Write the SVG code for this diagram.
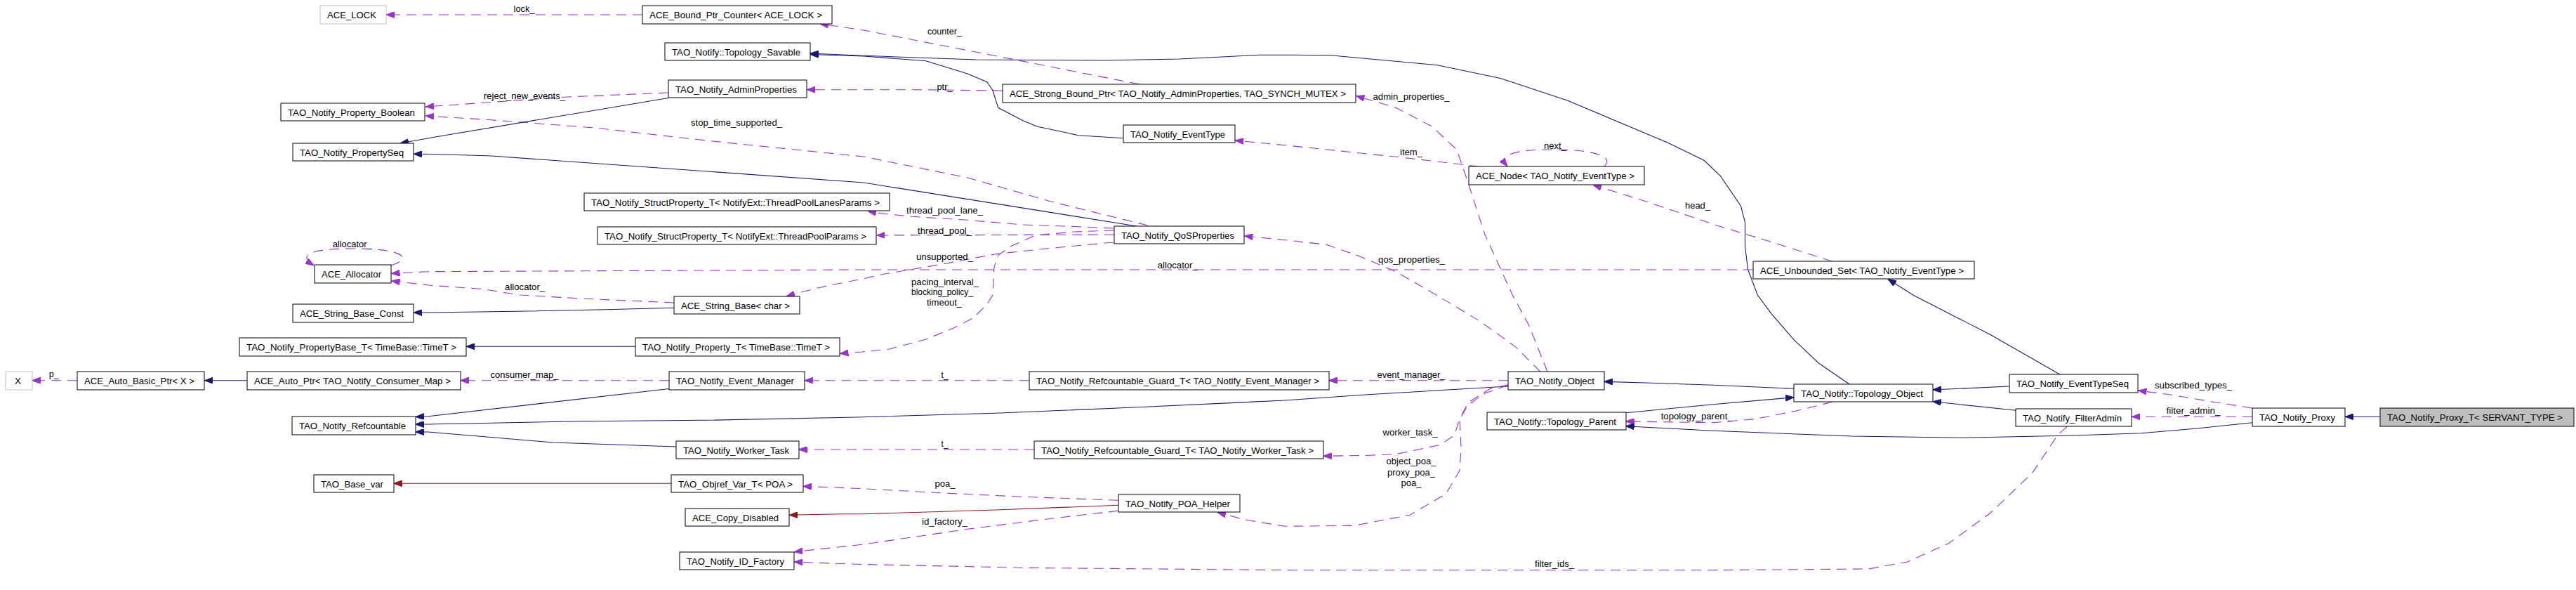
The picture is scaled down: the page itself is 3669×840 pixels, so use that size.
<svg xmlns="http://www.w3.org/2000/svg" width="3669" height="840" viewBox="0 0 3669 840">
<style>
.node rect{fill:#fff;stroke:#000;stroke-width:1}
.ext rect{stroke:#bfbfbf}
.cur rect{fill:#bfbfbf}
text{font-family:"Liberation Sans",Arial,sans-serif;font-size:13.5px;fill:#000}
.lbl{text-anchor:middle}
.inh{fill:none;stroke:#191970;stroke-width:1.1;marker-end:url(#ab)}
.use{fill:none;stroke:#9a32cd;stroke-width:1.1;stroke-dasharray:14,9;marker-end:url(#ap)}
.prv{fill:none;stroke:#8b1a1a;stroke-width:1.1;marker-end:url(#ar)}
</style>
<defs>
<marker id="ab" markerUnits="userSpaceOnUse" viewBox="0 0 12 9" markerWidth="12" markerHeight="9" refX="12" refY="4.5" orient="auto"><path d="M0,0 L12,4.5 L0,9 z" fill="#191970" stroke="#191970"/></marker>
<marker id="ap" markerUnits="userSpaceOnUse" viewBox="0 0 12 9" markerWidth="12" markerHeight="9" refX="12" refY="4.5" orient="auto"><path d="M0,0 L12,4.5 L0,9 z" fill="#9a32cd" stroke="#9a32cd"/></marker>
<marker id="ar" markerUnits="userSpaceOnUse" viewBox="0 0 12 9" markerWidth="12" markerHeight="9" refX="12" refY="4.5" orient="auto"><path d="M0,0 L12,4.5 L0,9 z" fill="#8b1a1a" stroke="#8b1a1a"/></marker>
</defs>
<rect x="0" y="0" width="3669" height="840" fill="#fff"/>

<g id="connectors">
<path class="use" d="M915,21 L550,21"/>
<path class="use" d="M1623,120 L1400,76 L1230,43 L1168,34"/>
<path class="use" d="M1428,129 L1300,127.7 L1149,127.7"/>
<path class="use" d="M952,132 L808,138 L606,152"/>
<path class="use" d="M1635,321 L1497,287 L1378,253 L1230,223 L1005,200 L847,182 L689,170 L606,165"/>
<path class="inh" d="M952,139.5 L620,195 L570,204"/>
<path class="inh" d="M2634,547 L2590,516.7 L2554.7,483.3 L2523,446.7 L2503.3,420 L2489.4,383.3 L2485.5,350 L2485.5,316.7 L2479.5,293.3 L2450,250 L2427,228.3 L2375.6,203.3 L2233,143.3 L2138,111.7 L2047.5,92.7 L1895,78.7 L1840,78.3 L1793,78.3 L1680,84 L1572,86 L1390,85 L1230,79.3 L1154,76"/>
<path class="inh" d="M1599.6,196.7 L1536,192.7 L1477,180 L1457,171.7 L1421.7,153.3 L1413.7,128.3 L1405.8,116.7 L1378,105 L1318.9,86.7 L1230,80 L1154,77.5"/>
<path class="inh" d="M1619,322 L1230,260 L700,222 L620,219.5 L589,219.3"/>
<path class="use" d="M1586,325 L1536,322.7 L1457,320 L1378,313.3 L1299,308.3 L1250,303.3 L1236,300.5"/>
<path class="use" d="M1587,334 L1248.5,335"/>
<path class="use" d="M1586,345 L1497,353.3 L1418,361.7 L1339,376.7 L1260,390 L1230,396.7 L1164,410 L1120,421.7"/>
<path class="use" d="M1587,328 L1530,330 L1475,335 L1441,350 L1422,363 L1416,380 L1415,400 L1414,420 L1406,433 L1386,453 L1358,467 L1319,483 L1267,497 L1228,501 L1196.4,503.3"/>
<path class="use" d="M2497,384 L1220,384 L610,386.7 L557.5,389.3"/>
<path class="use" d="M960.3,431 L827.5,425 L740.5,420 L689,411.7 L610,406 L557.5,400"/>
<path class="use" d="M556,378 C590,368 575,354 503,354 C430,354 428,366 447,378"/>
<path class="inh" d="M960.3,438.3 L863,440.7 L734.5,443.3 L610,445 L589.1,445"/>
<path class="inh" d="M905,493.3 L664,493.3"/>
<path class="inh" d="M352,541.7 L291.4,541.7"/>
<path class="use" d="M110,541.7 L45.5,541.7"/>
<path class="use" d="M953,541.7 L655.5,541.7"/>
<path class="inh" d="M953,553.5 L610,592.7 L592,593.5"/>
<path class="inh" d="M2148,550 L1948.6,561.7 L1830,570 L1615.4,580 L1417.7,588.3 L1220,594 L1005,598.3 L813.6,600 L610,604 L591.5,604"/>
<path class="inh" d="M963,636 L788,630 L610,615 L591.5,615"/>
<path class="prv" d="M956,688.3 L560.7,688.3"/>
<path class="use" d="M1593,712.3 L1457,707.3 L1338.6,701.7 L1230,695.7 L1143.8,692.3"/>
<path class="prv" d="M1593,719.3 L1417.7,726 L1230,731.7 L1199,731.7 L1124.4,733.3"/>
<path class="use" d="M1593,727.3 L1496.8,738.3 L1378,753.3 L1230,775 L1131,785.7"/>
<path class="use" d="M2944,607.3 L2930.3,620 L2894.7,673.3 L2835.4,730 L2776,773.3 L2716.8,800 L2661.4,810 L2440,811.7 L1840,811.7 L1457,808.3 L1220,803.3 L1131,800"/>
<path class="use" d="M1465.5,541.7 L1145.8,541.7"/>
<path class="use" d="M1473,640 L1137.5,640"/>
<path class="use" d="M2148,541.7 L1892.5,541.7"/>
<path class="use" d="M2148,548.3 L2114.7,560 L2091,576.7 L2079,596.7 L2071.2,620 L2051.4,633.3 L1988.2,646.7 L1948.6,648.3 L1884.6,649.3"/>
<path class="use" d="M2148,547.7 L2122.6,553.3 L2091,573.3 L2079,596.7 L2081,636.7 L2079,670 L2059.3,703.3 L2007.9,733.3 L1928.8,748.3 L1830,749.3 L1773.6,740 L1734,729.5"/>
<path class="use" d="M2194,529.3 L2158,493.3 L2106.8,456.7 L2051.4,423.3 L1988,386.7 L1936.8,365 L1889.3,348.3 L1830,341.7 L1772.4,336"/>
<path class="use" d="M2204,529.3 L2177.7,463.3 L2154.2,420 L2114.7,333.3 L2091,260 L2075,213.3 L2039.6,180 L1988,153.3 L1931.5,136.5"/>
<path class="use" d="M2106.8,237.3 L2047.5,230 L1988,223.3 L1909,215 L1830,206.7 L1759.3,200"/>
<path class="use" d="M2285,237 C2300,222 2270,213 2210,213 C2150,213 2135,222 2147,237"/>
<path class="use" d="M2610,372.3 L2519,343.3 L2447.9,321.7 L2344,286.7 L2268.9,263.3"/>
<path class="inh" d="M2934.2,533.3 L2835.4,476.7 L2724.7,420 L2689,397.3"/>
<path class="inh" d="M2555,553.3 L2440,548.3 L2344,545 L2284.7,543.3"/>
<path class="use" d="M2610,572.3 L2558.6,585 L2499.3,596.7 L2440,601.7 L2315.6,600"/>
<path class="inh" d="M2315.6,587.7 L2440,575.7 L2555,565.7"/>
<path class="inh" d="M3207.8,601.7 L3129,610 L3050,616.7 L2954,620 L2795.9,623.3 L2637.7,621 L2440,613.3 L2315.6,606.7"/>
<path class="inh" d="M2861.5,550 L2752.8,555"/>
<path class="inh" d="M2871,584.3 L2752.8,571.7"/>
<path class="use" d="M3207.8,581 L3148.9,571.7 L3089.5,561.7 L3045.4,556"/>
<path class="use" d="M3207.8,593.3 L3036.3,593.3"/>
<path class="inh" d="M3390,593.3 L3340.2,593.3"/>

<text class="lbl" x="746.6" y="17" textLength="30" lengthAdjust="spacingAndGlyphs">lock_</text>
<text class="lbl" x="1345.5" y="49" textLength="49" lengthAdjust="spacingAndGlyphs">counter_</text>
<text class="lbl" x="1345.5" y="128" textLength="22" lengthAdjust="spacingAndGlyphs">ptr_</text>
<text class="lbl" x="747" y="141" textLength="116" lengthAdjust="spacingAndGlyphs">reject_new_events_</text>
<text class="lbl" x="1049" y="179" textLength="130" lengthAdjust="spacingAndGlyphs">stop_time_supported_</text>
<text class="lbl" x="2010" y="142" textLength="109" lengthAdjust="spacingAndGlyphs">admin_properties_</text>
<text class="lbl" x="2010" y="221" textLength="32" lengthAdjust="spacingAndGlyphs">item_</text>
<text class="lbl" x="2215" y="212" textLength="32" lengthAdjust="spacingAndGlyphs">next_</text>
<text class="lbl" x="2418" y="297" textLength="36" lengthAdjust="spacingAndGlyphs">head_</text>
<text class="lbl" x="1345.5" y="304" textLength="109" lengthAdjust="spacingAndGlyphs">thread_pool_lane_</text>
<text class="lbl" x="1345.5" y="333" textLength="77" lengthAdjust="spacingAndGlyphs">thread_pool_</text>
<text class="lbl" x="501.7" y="352" textLength="56" lengthAdjust="spacingAndGlyphs">allocator_</text>
<text class="lbl" x="1345.5" y="370" textLength="81" lengthAdjust="spacingAndGlyphs">unsupported_</text>
<text class="lbl" x="1677.3" y="382" textLength="57" lengthAdjust="spacingAndGlyphs">allocator_</text>
<text class="lbl" x="2010.5" y="374" textLength="95" lengthAdjust="spacingAndGlyphs">qos_properties_</text>
<text class="lbl" x="1346" y="406" textLength="96" lengthAdjust="spacingAndGlyphs">pacing_interval_</text>
<text class="lbl" x="1342" y="420" textLength="88" lengthAdjust="spacingAndGlyphs">blocking_policy_</text>
<text class="lbl" x="1345" y="435" textLength="50" lengthAdjust="spacingAndGlyphs">timeout_</text>
<text class="lbl" x="747.6" y="412.5" textLength="57" lengthAdjust="spacingAndGlyphs">allocator_</text>
<text class="lbl" x="747" y="538" textLength="97" lengthAdjust="spacingAndGlyphs">consumer_map_</text>
<text class="lbl" x="1345.5" y="538" textLength="10" lengthAdjust="spacingAndGlyphs">t_</text>
<text class="lbl" x="2010" y="538" textLength="97" lengthAdjust="spacingAndGlyphs">event_manager_</text>
<text class="lbl" x="76.7" y="537" textLength="14" lengthAdjust="spacingAndGlyphs">p_</text>
<text class="lbl" x="3124" y="553" textLength="110" lengthAdjust="spacingAndGlyphs">subscribed_types_</text>
<text class="lbl" x="3124" y="589" textLength="77" lengthAdjust="spacingAndGlyphs">filter_admin_</text>
<text class="lbl" x="2416.7" y="597" textLength="102" lengthAdjust="spacingAndGlyphs">topology_parent_</text>
<text class="lbl" x="2008.5" y="620" textLength="78" lengthAdjust="spacingAndGlyphs">worker_task_</text>
<text class="lbl" x="1345.5" y="636" textLength="10" lengthAdjust="spacingAndGlyphs">t_</text>
<text class="lbl" x="2010" y="661" textLength="71" lengthAdjust="spacingAndGlyphs">object_poa_</text>
<text class="lbl" x="2010" y="677" textLength="68" lengthAdjust="spacingAndGlyphs">proxy_poa_</text>
<text class="lbl" x="2010" y="692" textLength="29" lengthAdjust="spacingAndGlyphs">poa_</text>
<text class="lbl" x="1346" y="693" textLength="29" lengthAdjust="spacingAndGlyphs">poa_</text>
<text class="lbl" x="1345.5" y="747" textLength="65" lengthAdjust="spacingAndGlyphs">id_factory_</text>
<text class="lbl" x="2214" y="807" textLength="56" lengthAdjust="spacingAndGlyphs">filter_ids_</text>
</g>

<g id="n_ace_lock" class="node ext"><rect x="456" y="8" width="94" height="26"/><text x="466" y="26" textLength="70" lengthAdjust="spacingAndGlyphs">ACE_LOCK</text></g>
<g id="n_bound_ptr_counter" class="node"><rect x="915" y="8" width="270" height="26"/><text x="925" y="26" textLength="246" lengthAdjust="spacingAndGlyphs">ACE_Bound_Ptr_Counter&lt; ACE_LOCK &gt;</text></g>
<g id="n_topology_savable" class="node"><rect x="947" y="61" width="207" height="25"/><text x="957" y="78.5" textLength="183" lengthAdjust="spacingAndGlyphs">TAO_Notify::Topology_Savable</text></g>
<g id="n_admin_properties" class="node"><rect x="952" y="114" width="197" height="25"/><text x="962" y="131.5" textLength="173" lengthAdjust="spacingAndGlyphs">TAO_Notify_AdminProperties</text></g>
<g id="n_strong_bound_ptr" class="node"><rect x="1428" y="120" width="503" height="26"/><text x="1438" y="138" textLength="479" lengthAdjust="spacingAndGlyphs">ACE_Strong_Bound_Ptr&lt; TAO_Notify_AdminProperties, TAO_SYNCH_MUTEX &gt;</text></g>
<g id="n_property_boolean" class="node"><rect x="400" y="147" width="205" height="25"/><text x="410" y="164.5" textLength="181" lengthAdjust="spacingAndGlyphs">TAO_Notify_Property_Boolean</text></g>
<g id="n_event_type" class="node"><rect x="1600" y="178" width="159" height="25"/><text x="1610" y="195.5" textLength="135" lengthAdjust="spacingAndGlyphs">TAO_Notify_EventType</text></g>
<g id="n_property_seq" class="node"><rect x="417" y="204" width="172" height="25"/><text x="427" y="221.5" textLength="148" lengthAdjust="spacingAndGlyphs">TAO_Notify_PropertySeq</text></g>
<g id="n_ace_node" class="node"><rect x="2092" y="237" width="250" height="26"/><text x="2102" y="255" textLength="226" lengthAdjust="spacingAndGlyphs">ACE_Node&lt; TAO_Notify_EventType &gt;</text></g>
<g id="n_struct_lanes" class="node"><rect x="832" y="275" width="435" height="25"/><text x="842" y="292.5" textLength="411" lengthAdjust="spacingAndGlyphs">TAO_Notify_StructProperty_T&lt; NotifyExt::ThreadPoolLanesParams &gt;</text></g>
<g id="n_struct_params" class="node"><rect x="851" y="323" width="397" height="25"/><text x="861" y="340.5" textLength="373" lengthAdjust="spacingAndGlyphs">TAO_Notify_StructProperty_T&lt; NotifyExt::ThreadPoolParams &gt;</text></g>
<g id="n_qos_properties" class="node"><rect x="1587" y="322" width="185" height="25"/><text x="1597" y="339.5" textLength="161" lengthAdjust="spacingAndGlyphs">TAO_Notify_QoSProperties</text></g>
<g id="n_ace_allocator" class="node"><rect x="448" y="377" width="109" height="26"/><text x="458" y="395" textLength="85" lengthAdjust="spacingAndGlyphs">ACE_Allocator</text></g>
<g id="n_unbounded_set" class="node"><rect x="2497" y="372" width="315" height="25"/><text x="2507" y="389.5" textLength="290" lengthAdjust="spacingAndGlyphs">ACE_Unbounded_Set&lt; TAO_Notify_EventType &gt;</text></g>
<g id="n_string_base" class="node"><rect x="960" y="422" width="179" height="25"/><text x="970" y="439.5" textLength="155" lengthAdjust="spacingAndGlyphs">ACE_String_Base&lt; char &gt;</text></g>
<g id="n_string_base_const" class="node"><rect x="417" y="433" width="172" height="26"/><text x="427" y="451" textLength="148" lengthAdjust="spacingAndGlyphs">ACE_String_Base_Const</text></g>
<g id="n_property_base_t" class="node"><rect x="341" y="481" width="323" height="26"/><text x="351" y="499" textLength="299" lengthAdjust="spacingAndGlyphs">TAO_Notify_PropertyBase_T&lt; TimeBase::TimeT &gt;</text></g>
<g id="n_property_t" class="node"><rect x="905" y="481" width="291" height="26"/><text x="915" y="499" textLength="267" lengthAdjust="spacingAndGlyphs">TAO_Notify_Property_T&lt; TimeBase::TimeT &gt;</text></g>
<g id="n_x" class="node ext"><rect x="8" y="529" width="38" height="26"/><text x="21" y="547" textLength="9" lengthAdjust="spacingAndGlyphs">X</text></g>
<g id="n_auto_basic_ptr" class="node"><rect x="110" y="529" width="181" height="26"/><text x="120" y="547" textLength="157" lengthAdjust="spacingAndGlyphs">ACE_Auto_Basic_Ptr&lt; X &gt;</text></g>
<g id="n_auto_ptr" class="node"><rect x="352" y="529" width="304" height="26"/><text x="362" y="547" textLength="280" lengthAdjust="spacingAndGlyphs">ACE_Auto_Ptr&lt; TAO_Notify_Consumer_Map &gt;</text></g>
<g id="n_event_manager" class="node"><rect x="953" y="529" width="193" height="26"/><text x="963" y="547" textLength="168" lengthAdjust="spacingAndGlyphs">TAO_Notify_Event_Manager</text></g>
<g id="n_guard_em" class="node"><rect x="1466" y="529" width="427" height="26"/><text x="1476" y="547" textLength="403" lengthAdjust="spacingAndGlyphs">TAO_Notify_Refcountable_Guard_T&lt; TAO_Notify_Event_Manager &gt;</text></g>
<g id="n_notify_object" class="node"><rect x="2148" y="529" width="137" height="26"/><text x="2158" y="547" textLength="113" lengthAdjust="spacingAndGlyphs">TAO_Notify_Object</text></g>
<g id="n_event_type_seq" class="node"><rect x="2862" y="533" width="183" height="26"/><text x="2872" y="551" textLength="160" lengthAdjust="spacingAndGlyphs">TAO_Notify_EventTypeSeq</text></g>
<g id="n_topology_object" class="node"><rect x="2555" y="547" width="198" height="25"/><text x="2565" y="564.5" textLength="174" lengthAdjust="spacingAndGlyphs">TAO_Notify::Topology_Object</text></g>
<g id="n_topology_parent" class="node"><rect x="2118" y="587" width="198" height="25"/><text x="2128" y="604.5" textLength="174" lengthAdjust="spacingAndGlyphs">TAO_Notify::Topology_Parent</text></g>
<g id="n_filter_admin" class="node"><rect x="2871" y="582" width="165" height="25"/><text x="2881" y="599.5" textLength="141" lengthAdjust="spacingAndGlyphs">TAO_Notify_FilterAdmin</text></g>
<g id="n_notify_proxy" class="node"><rect x="3208" y="581" width="132" height="26"/><text x="3218" y="599" textLength="108" lengthAdjust="spacingAndGlyphs">TAO_Notify_Proxy</text></g>
<g id="n_notify_proxy_t" class="node cur"><rect x="3390" y="581" width="276" height="26"/><text x="3400" y="599" textLength="250" lengthAdjust="spacingAndGlyphs">TAO_Notify_Proxy_T&lt; SERVANT_TYPE &gt;</text></g>
<g id="n_refcountable" class="node"><rect x="416" y="593" width="176" height="26"/><text x="426" y="611" textLength="152" lengthAdjust="spacingAndGlyphs">TAO_Notify_Refcountable</text></g>
<g id="n_worker_task" class="node"><rect x="963" y="628" width="175" height="25"/><text x="973" y="645.5" textLength="151" lengthAdjust="spacingAndGlyphs">TAO_Notify_Worker_Task</text></g>
<g id="n_guard_wt" class="node"><rect x="1473" y="628" width="412" height="25"/><text x="1483" y="645.5" textLength="388" lengthAdjust="spacingAndGlyphs">TAO_Notify_Refcountable_Guard_T&lt; TAO_Notify_Worker_Task &gt;</text></g>
<g id="n_base_var" class="node"><rect x="447" y="676" width="114" height="25"/><text x="457" y="693.5" textLength="89" lengthAdjust="spacingAndGlyphs">TAO_Base_var</text></g>
<g id="n_objref_var" class="node"><rect x="956" y="676" width="188" height="25"/><text x="966" y="693.5" textLength="163" lengthAdjust="spacingAndGlyphs">TAO_Objref_Var_T&lt; POA &gt;</text></g>
<g id="n_poa_helper" class="node"><rect x="1593" y="704" width="173" height="25"/><text x="1603" y="721.5" textLength="149" lengthAdjust="spacingAndGlyphs">TAO_Notify_POA_Helper</text></g>
<g id="n_copy_disabled" class="node"><rect x="976" y="724" width="148" height="25"/><text x="986" y="741.5" textLength="123" lengthAdjust="spacingAndGlyphs">ACE_Copy_Disabled</text></g>
<g id="n_id_factory" class="node"><rect x="968" y="786" width="163" height="25"/><text x="978" y="803.5" textLength="139" lengthAdjust="spacingAndGlyphs">TAO_Notify_ID_Factory</text></g>
</svg>
